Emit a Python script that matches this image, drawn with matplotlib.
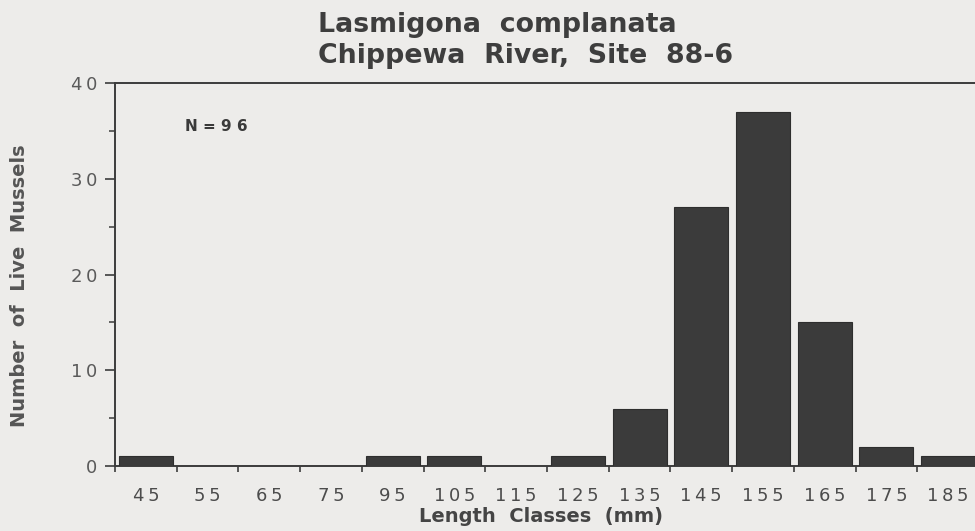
import matplotlib
matplotlib.use("Agg")
import matplotlib.pyplot as plt
from matplotlib.ticker import MultipleLocator, FixedLocator, NullFormatter, FuncFormatter

# Length-frequency data
length_classes = ["45", "55", "65", "75", "95", "105", "115", "125",
                  "135", "145", "155", "165", "175", "185"]
live_counts = [1, 0, 0, 0, 1, 1, 0, 1, 6, 27, 37, 15, 2, 1]
sample_size = 96

title_lines = ["Lasmigona  complanata", "Chippewa  River,  Site  88-6"]
x_title = "Length  Classes  (mm)"
y_title = "Number  of  Live  Mussels"

paper = "#edecea"
ink = "#3c3c3c"
bar_color = "#3b3b3b"
THIN = "\u2009"

plt.rcParams["font.family"] = ["DejaVu Sans"]

W, H = 975, 531
fig = plt.figure(figsize=(W / 100, H / 100), dpi=100, facecolor=paper)
# axes run slightly past the right edge of the figure
ax = fig.add_axes([115 / W, (H - 466) / H, 864 / W, 383 / H])
ax.set_facecolor(paper)

x = list(range(len(length_classes)))
ax.bar(x, live_counts, width=0.875, color=bar_color, edgecolor="#2e2e2e",
       linewidth=0.8, zorder=3)

ax.set_xlim(-0.5, len(length_classes) - 0.5)
ax.set_ylim(0, 40)

ax.spines["right"].set_visible(False)
for side in ("left", "top", "bottom"):
    ax.spines[side].set_color(ink)
    ax.spines[side].set_linewidth(1.4)

# letter-spaced category labels
spaced = [THIN.join(lbl) for lbl in length_classes]
ax.set_xticks(x)
ax.set_xticklabels(spaced, fontsize=13, color="#4c4c4c")
ax.tick_params(axis="x", which="major", length=0, pad=15)
ax.xaxis.set_minor_locator(FixedLocator([i - 0.5 for i in range(len(x) + 1)]))
ax.xaxis.set_minor_formatter(NullFormatter())
ax.tick_params(axis="x", which="minor", direction="out", length=4,
               width=1.2, color=ink)

ax.yaxis.set_major_locator(MultipleLocator(10))
ax.yaxis.set_minor_locator(MultipleLocator(5))
ax.yaxis.set_major_formatter(FuncFormatter(lambda v, p: THIN.join(f"{v:.0f}")))
ax.tick_params(axis="y", which="major", direction="out", length=7,
               width=1.2, color=ink, labelsize=13, labelcolor="#5a5a5a", pad=6)
ax.tick_params(axis="y", which="minor", direction="out", length=4,
               width=1.1, color=ink)

fig.text(541 / W, 1 - 522 / H, x_title, fontsize=14, fontweight="bold",
         color="#454545", ha="center", va="baseline")
fig.text(20 / W, 1 - 286 / H, y_title, fontsize=14, fontweight="bold",
         color="#555555", ha="center", va="center", rotation=90)

ax.text(0.63, 35.5, f"N = {' '.join(str(sample_size))}", fontsize=11,
        fontweight="bold", color="#3a3a3a", ha="left", va="center")

fig.text(318 / W, 1 - 32 / H, title_lines[0], fontsize=19.3,
         fontweight="bold", color="#3e3e3e", ha="left", va="baseline")
fig.text(318 / W, 1 - 63 / H, title_lines[1], fontsize=19.3,
         fontweight="bold", color="#3e3e3e", ha="left", va="baseline")

fig.savefig("out.png", dpi=100, facecolor=paper)
